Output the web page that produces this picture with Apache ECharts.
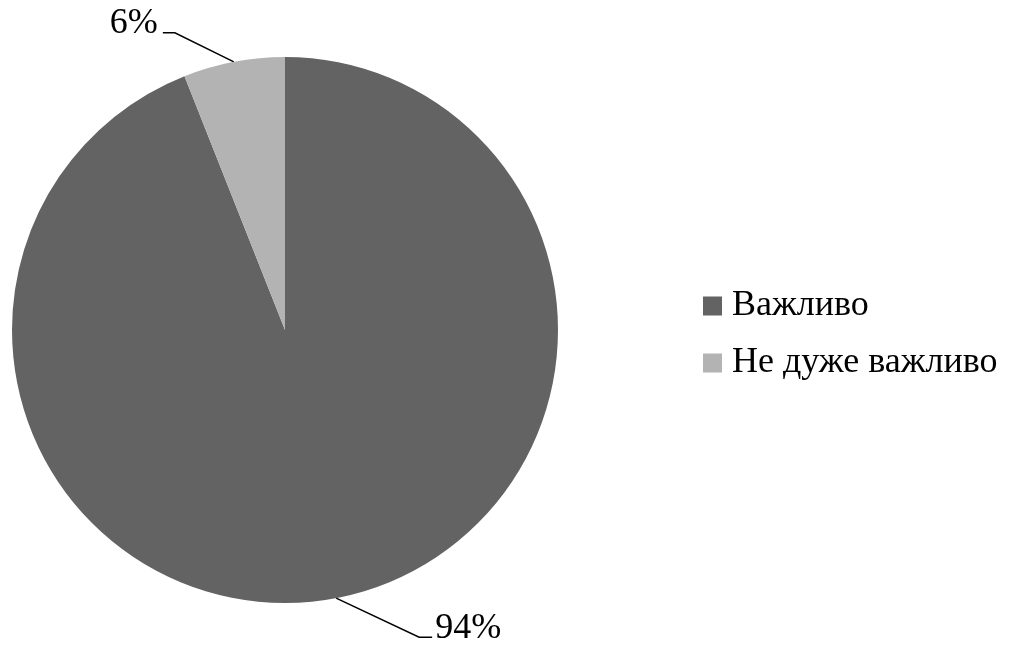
<!DOCTYPE html>
<html>
<head>
<meta charset="utf-8">
<script src="https://cdn.jsdelivr.net/npm/echarts@6/dist/echarts.min.js"></script>
<style>
  html, body { margin: 0; padding: 0; background: #ffffff; }
  #chart { width: 1016px; height: 646px; }
</style>
</head>
<body>
<div id="chart"></div>
<script>
// Categories and their shares (percent)
const categories = ['Важливо', 'Не дуже важливо'];
const shares = [94, 6];
const sliceColors = ['#636363', '#b3b3b3'];

const chart = echarts.init(document.getElementById('chart'));

// Label placement relative to the anchor point on the slice edge:
// the leader runs diagonally out, then a short horizontal run to the text.
function placeLabel(params) {
  const p0 = params.labelLinePoints[0];
  if (params.dataIndex === 0) {
    const mid = [p0[0] + 83, p0[1] + 39];
    const end = [mid[0] + 13, mid[1]];
    return {
      x: end[0] + 3, y: end[1] - 9,
      align: 'left', verticalAlign: 'middle',
      labelLinePoints: [p0, mid, end]
    };
  }
  const mid = [p0[0] - 59, p0[1] - 29];
  const end = [mid[0] - 12, mid[1]];
  return {
    x: end[0] - 5, y: end[1] - 9,
    align: 'right', verticalAlign: 'middle',
    labelLinePoints: [p0, mid, end]
  };
}

chart.setOption({
  animation: false,
  backgroundColor: '#ffffff',
  color: sliceColors,
  legend: {
    orient: 'vertical',
    left: 698,
    top: 283,
    itemWidth: 19,
    itemHeight: 19,
    itemGap: 21,
    icon: 'rect',
    textStyle: {
      fontFamily: 'Liberation Serif, Times New Roman, serif',
      fontSize: 36,
      color: '#000000',
      padding: [0, 0, 0, 5]
    },
    data: categories
  },
  series: [{
    type: 'pie',
    center: [285, 330],
    radius: 273,
    startAngle: 90,
    clockwise: true,
    itemStyle: { borderWidth: 0 },
    emphasis: { disabled: true },
    label: {
      show: true,
      formatter: '{c}%',
      fontFamily: 'Liberation Serif, Times New Roman, serif',
      fontSize: 36,
      color: '#000000'
    },
    labelLine: {
      show: true,
      length: 20,
      length2: 10,
      lineStyle: { color: '#000000', width: 1.5 }
    },
    labelLayout: placeLabel,
    data: categories.map((name, i) => ({ name: name, value: shares[i] }))
  }]
});
</script>
</body>
</html>
